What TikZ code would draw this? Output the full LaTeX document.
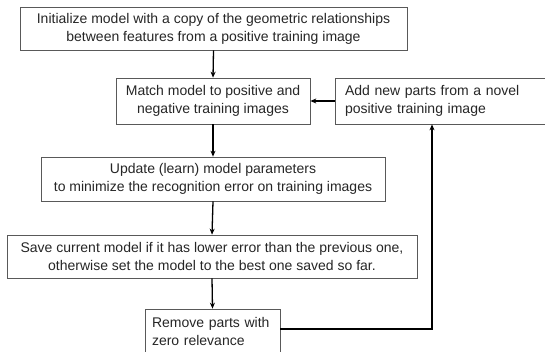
\documentclass[tikz,border=0pt]{standalone}
\usepackage{fontspec}
\setmainfont{Liberation Sans}
\usetikzlibrary{arrows.meta}
\tikzset{
  box/.style={draw=black!65, line width=0.7pt, fill=white, text=black!85,
    font=\fontsize{14}{18}\selectfont, inner sep=0pt, align=center},
  lbox/.style={box, align=left},
  flow/.style={line width=1.3pt, -{Stealth[length=6pt,width=5pt]}},
  loopline/.style={line width=1.8pt, -{Stealth[length=6pt,width=5pt]}}
}
\begin{document}
\begin{tikzpicture}[x=1pt, y=-1pt]
  \useasboundingbox (0,0) rectangle (545,352);
  \clip (0,0) rectangle (545,352);
  \fill[white] (0,0) rectangle (545,352);

  % process steps
  \node[box, minimum width=387pt, minimum height=43pt] (init) at (213.5,28.5)
    {Initialize model with a copy of the geometric relationships\\between features from a positive training image};
  \node[box, minimum width=194pt, minimum height=46pt] (match) at (213,101)
    {Match model to positive and\\negative training images};
  \node[lbox, inner xsep=10pt, text width=230pt, minimum height=46pt] (add) at (460,101)
    {Add new parts from a novel\\positive training image};
  \node[box, minimum width=344pt, minimum height=44pt] (update) at (213,179)
    {Update (learn) model parameters\\to minimize the recognition error on training images};
  \node[box, minimum width=410pt, minimum height=43pt] (save) at (212,256.5)
    {Save current model if it has lower error than the previous one,\\otherwise set the model to the best one saved so far.};
  \node[lbox, inner xsep=7pt, text width=121pt, minimum height=44pt] (remove) at (212.5,331)
    {Remove parts with\\zero relevance};

  % main flow
  \draw[flow] (init.south) -- (match.north);
  \draw[flow] (add.west) -- (match.east);
  \draw[flow] (match.south) -- (update.north);
  \draw[flow] (update.south) -- (save.north);
  \draw[flow] (save.south) -- (remove.north);

  % feedback loop
  \coordinate (corner) at (432,329);
  \draw[loopline] (remove.east |- corner) -- (corner) -- (corner |- add.south);
\end{tikzpicture}
\end{document}
